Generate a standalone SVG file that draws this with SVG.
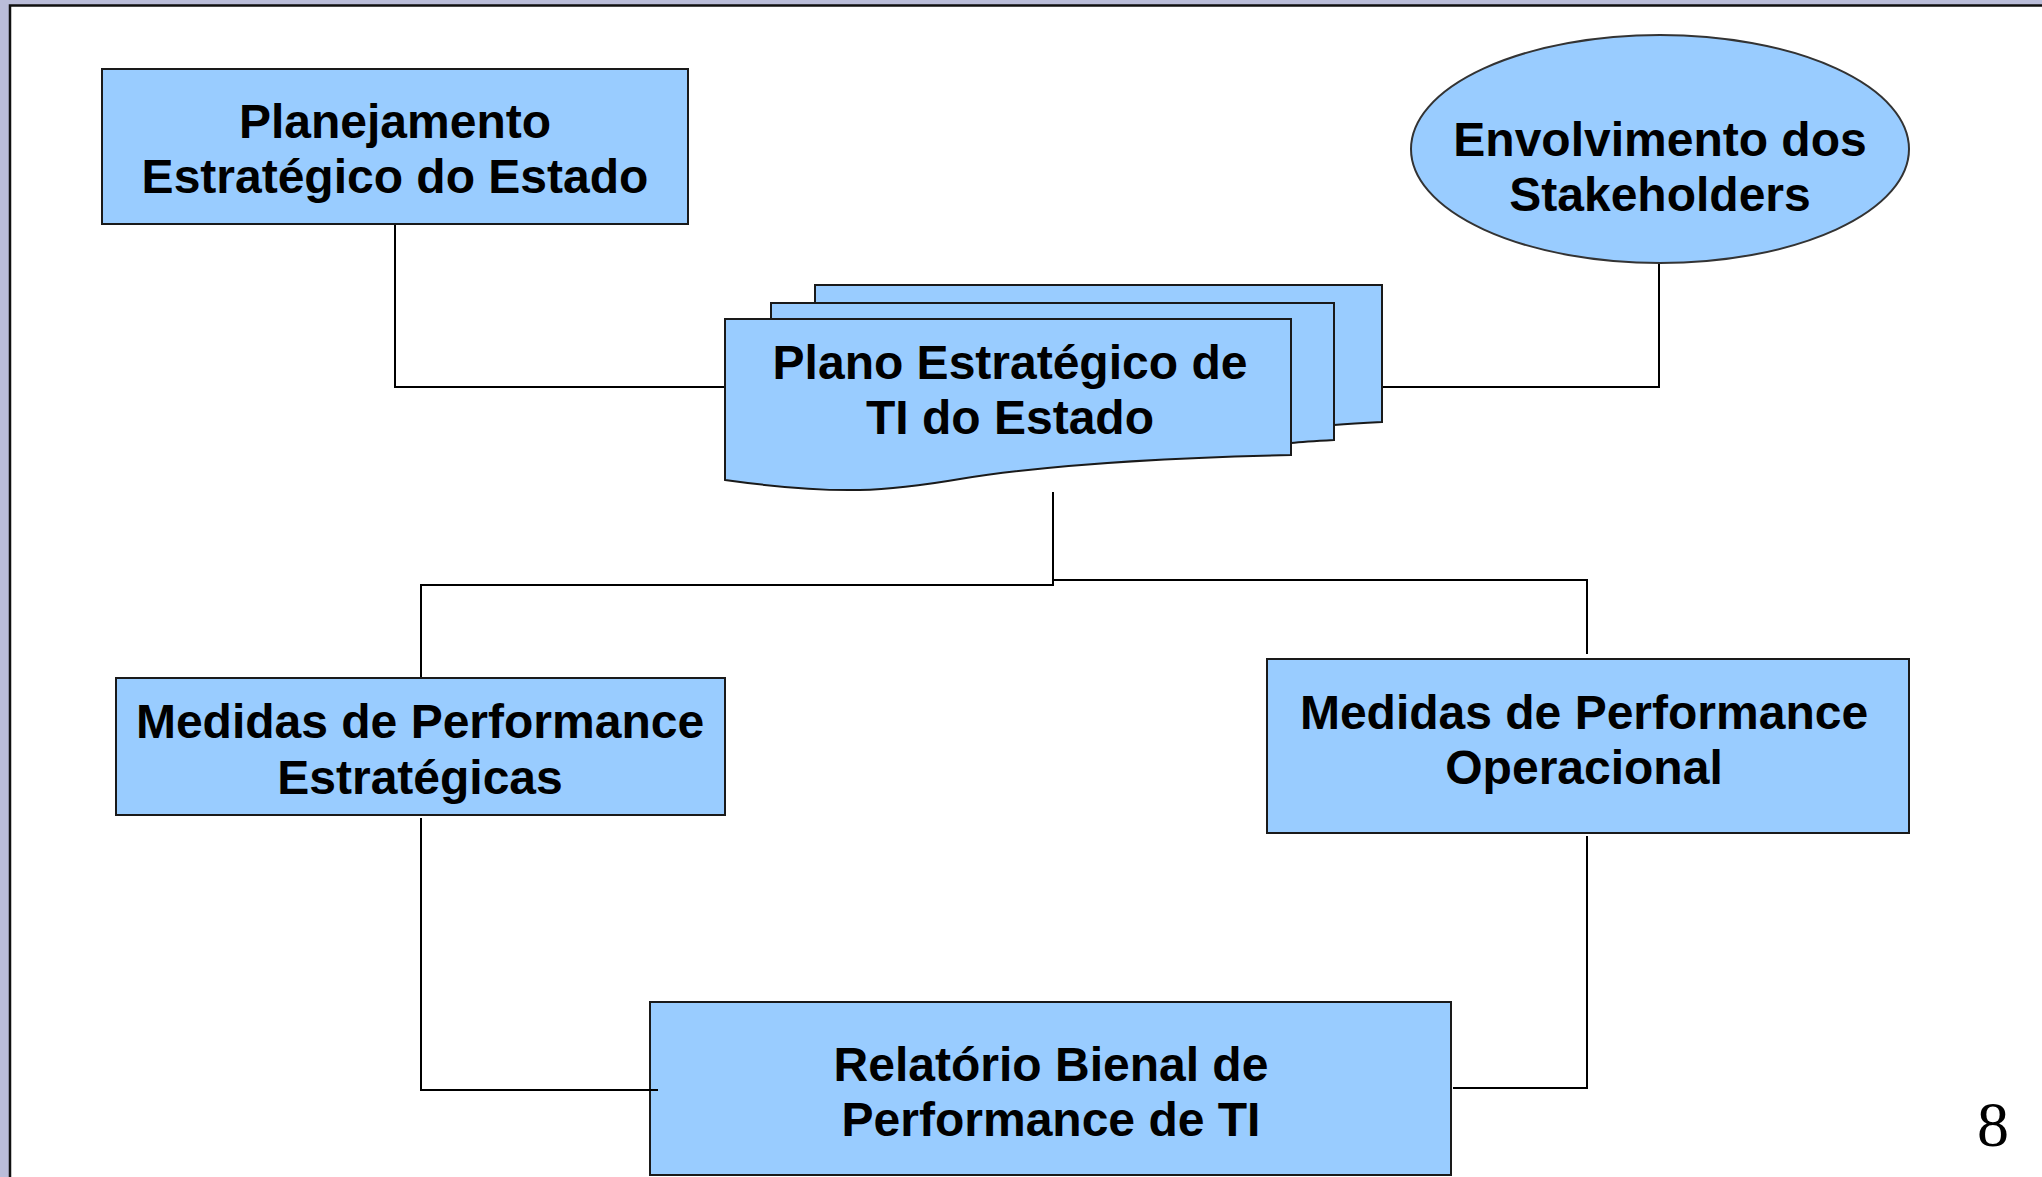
<svg xmlns="http://www.w3.org/2000/svg" width="2042" height="1177" viewBox="0 0 2042 1177">
<style>
.box{fill:#99ccff;stroke:#1a1a1a;stroke-width:2}
.ell{fill:#99ccff;stroke:#333;stroke-width:2}
.lbl{font-family:"Liberation Sans",Arial,sans-serif;font-weight:bold;font-size:48px;fill:#000;text-anchor:middle}
.con{fill:none;stroke:#000;stroke-width:2}
</style>
<rect x="0" y="0" width="2042" height="1177" fill="#babdd9"/>
<rect x="10" y="5.5" width="2040" height="1180" fill="#ffffff" stroke="#111" stroke-width="2.5"/>

<g id="node-planejamento">
<rect class="box" x="102" y="69" width="586" height="155"/>
<text class="lbl" x="395" y="138">Planejamento</text>
<text class="lbl" x="395" y="193">Estratégico do Estado</text>
</g>

<g id="node-stakeholders">
<ellipse class="ell" cx="1660" cy="149" rx="249" ry="114"/>
<text class="lbl" x="1660" y="156">Envolvimento dos</text>
<text class="lbl" x="1660" y="211">Stakeholders</text>
</g>

<g id="node-plano">
<path class="box" d="M815,285 H1382 V422 C1360,423 1345,424 1334,425 V440 L815,440 Z"/>
<path class="box" d="M771,303 H1334 V440 C1315,441 1300,442 1291,443 V455 L771,455 Z"/>
<path class="box" d="M725,319 H1291 V455 C1150,458 1040,466 960,479 C890,491 840,496 725,480 Z"/>
<text class="lbl" x="1010" y="379">Plano Estratégico de</text>
<text class="lbl" x="1010" y="434">TI do Estado</text>
</g>

<g id="node-estrategicas">
<rect class="box" x="116" y="678" width="609" height="137"/>
<text class="lbl" x="420" y="738">Medidas de Performance</text>
<text class="lbl" x="420" y="794">Estratégicas</text>
</g>

<g id="node-operacional">
<rect class="box" x="1267" y="659" width="642" height="174"/>
<text class="lbl" x="1584" y="729">Medidas de Performance</text>
<text class="lbl" x="1584" y="784">Operacional</text>
</g>

<g id="node-relatorio">
<rect class="box" x="650" y="1002" width="801" height="173"/>
<text class="lbl" x="1051" y="1081">Relatório Bienal de</text>
<text class="lbl" x="1051" y="1136">Performance de TI</text>
</g>

<g id="connectors">
<polyline class="con" points="395,225 395,387 724,387"/>
<polyline class="con" points="1659,264 1659,387 1383,387"/>
<polyline class="con" points="1053,492 1053,585 421,585 421,677"/>
<polyline class="con" points="1053,580 1587,580 1587,654"/>
<polyline class="con" points="421,818 421,1090 658,1090"/>
<polyline class="con" points="1587,836 1587,1088 1453,1088"/>
</g>

<text x="1993" y="1146" font-family="'Liberation Serif','Times New Roman',serif" font-size="64" text-anchor="middle" fill="#000">8</text>
</svg>
